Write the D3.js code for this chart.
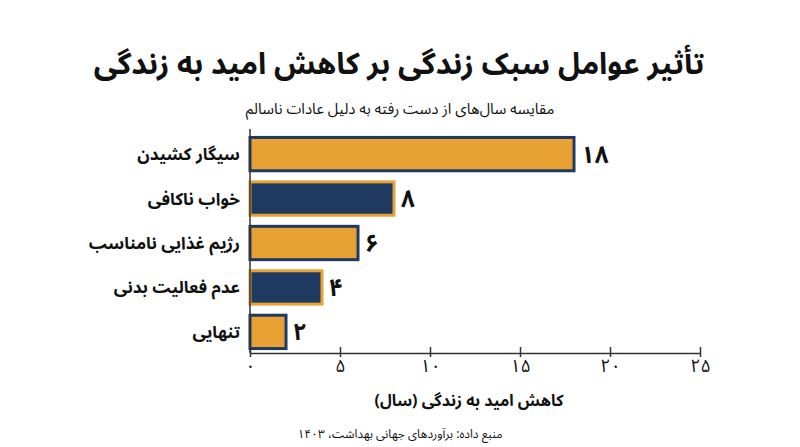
<!doctype html>
<html lang="fa">
  <head>
    <meta charset="utf-8">
    <title>تأثیر عوامل سبک زندگی</title>
    <script src="https://cdn.jsdelivr.net/npm/d3@7"></script>
    <style>
      body { margin: 0; background: #fff; }
      text { font-family: "Noto Sans Arabic", "DejaVu Sans", sans-serif; fill: #111; }
    </style>
  </head>
  <body>
    <script>

      var factors = ["سیگار کشیدن", "خواب ناکافی", "رژیم غذایی نامناسب", "عدم فعالیت بدنی", "تنهایی"];
      var yearsLost = [18, 8, 6, 4, 2];
      var xTicks = [0, 5, 10, 15, 20, 25];

      var orange = "#e8a234", navy = "#1f3a60";

      var width = 800, height = 447;
      var margin = {top: 133, right: 100, bottom: 94, left: 250};

      function fa(n){
        return String(n).replace(/\d/g, function(d){ return "۰۱۲۳۴۵۶۷۸۹"[d]; });
      }

      var svg = d3.select("body").append("svg")
          .attr("width", width)
          .attr("height", height);

      var x = d3.scaleLinear().domain([0, 25]).range([margin.left, width - margin.right]);
      var y = d3.scaleBand().domain(factors).range([margin.top, height - margin.bottom]).paddingInner(0.25).paddingOuter(0.1);

      // title + subtitle
      svg.append("text")
          .attr("x", 399).attr("y", 74)
          .attr("text-anchor", "middle").attr("direction", "rtl")
          .style("font-size", "30px").style("font-weight", "bold")
          .text("تأثیر عوامل سبک زندگی بر کاهش امید به زندگی");

      svg.append("text")
          .attr("x", 400).attr("y", 114)
          .attr("text-anchor", "middle").attr("direction", "rtl")
          .style("font-size", "15px")
          .text("مقایسه سال‌های از دست رفته به دلیل عادات ناسالم");

      var rows = factors.map(function(f, i){ return {name: f, value: yearsLost[i], i: i}; });

      svg.selectAll("rect.bar").data(rows)
        .enter().append("rect")
          .attr("class", "bar")
          .attr("x", x(0))
          .attr("y", function(d){ return y(d.name); })
          .attr("width", function(d){ return x(d.value) - x(0); })
          .attr("height", y.bandwidth())
          .attr("fill", function(d){ return d.i % 2 ? navy : orange; })
          .attr("stroke", function(d){ return d.i % 2 ? orange : navy; })
          .attr("stroke-width", 3);

      svg.selectAll("text.val").data(rows)
        .enter().append("text")
          .attr("class", "val")
          .attr("x", function(d){ return x(d.value) + 7; })
          .attr("y", function(d){ return y(d.name) + y.bandwidth() / 2; })
          .attr("dy", "0.35em")
          .style("font-size", "24px").style("font-weight", "bold")
          .text(function(d){ return fa(d.value); });

      svg.selectAll("text.cat").data(rows)
        .enter().append("text")
          .attr("class", "cat")
          .attr("x", x(0) - 10)
          .attr("y", function(d){ return y(d.name) + y.bandwidth() / 2; })
          .attr("dy", "0.35em")
          .attr("text-anchor", "end")
          .style("font-size", "17px").style("font-weight", "bold")
          .text(function(d){ return d.name; });

      // y axis line
      svg.append("line")
          .attr("x1", x(0)).attr("x2", x(0))
          .attr("y1", margin.top - 4).attr("y2", height - margin.bottom)
          .attr("stroke", "#333").attr("stroke-width", 1.5);

      // x axis
      var axisY = height - margin.bottom;
      var xAxis = svg.append("g")
          .attr("transform", "translate(0," + axisY + ")")
          .call(d3.axisBottom(x).tickValues(xTicks).tickSize(0).tickPadding(6).tickFormat(fa));
      xAxis.select(".domain").attr("stroke", "#333").attr("stroke-width", 1.5);
      xAxis.selectAll(".tick line").attr("y1", -6).attr("y2", 4).attr("stroke", "#333").attr("stroke-width", 1.5);
      xAxis.selectAll(".tick text")
          .style("font-family", "\"Noto Sans Arabic\", \"DejaVu Sans\", sans-serif")
          .style("font-size", "18px").attr("fill", "#111");

      svg.append("text")
          .attr("x", (x(0) + x(25)) / 2 - 6).attr("y", 406)
          .attr("text-anchor", "middle").attr("direction", "rtl")
          .style("font-size", "16px").style("font-weight", "bold")
          .text("کاهش امید به زندگی (سال)");

      svg.append("text")
          .attr("x", 400).attr("y", 438)
          .attr("text-anchor", "middle").attr("direction", "rtl")
          .style("font-size", "12px")
          .text("منبع داده: برآوردهای جهانی بهداشت، ۱۴۰۳");

    </script>
  </body>
</html>
